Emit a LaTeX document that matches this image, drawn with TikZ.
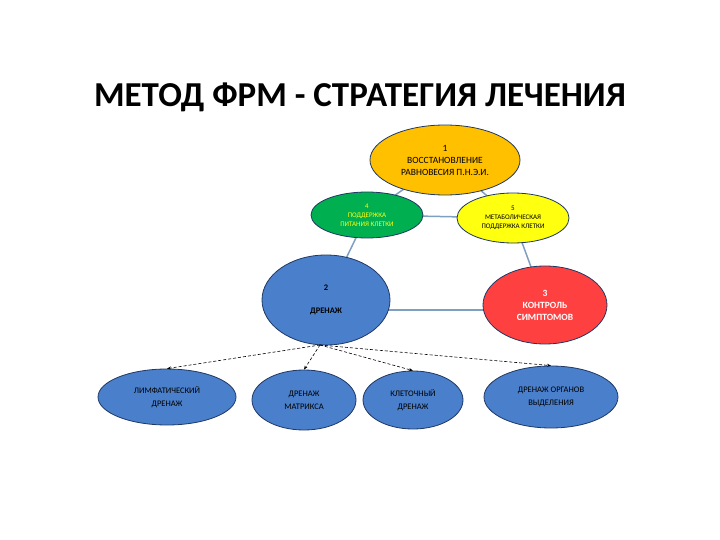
\documentclass[tikz,border=0pt]{standalone}
\usepackage{fontspec}
\setmainfont{Carlito}
\usetikzlibrary{shapes.geometric,arrows.meta}
\definecolor{lnk}{HTML}{7F9FC0}
\definecolor{bl}{HTML}{4A7FCC}
\definecolor{org}{HTML}{FFC000}
\definecolor{grn}{HTML}{00B050}
\definecolor{ylw}{HTML}{FFFF10}
\definecolor{rd}{HTML}{FF4040}
\definecolor{edg}{HTML}{1F3864}
\tikzset{el/.style={ellipse,draw=edg,line width=0.8pt,inner sep=0pt,align=center,font=\fontsize{8.5}{11}\selectfont},
lk/.style={lnk,line width=1.5pt},
ar/.style={densely dashed,line width=0.6pt,-{Stealth[length=4pt,width=3pt]}}}
\begin{document}
\begin{tikzpicture}[x=1pt,y=-1pt]
\useasboundingbox (0,0) rectangle (720,540);
\node[font=\bfseries\fontsize{35}{40}\selectfont] (t) at (360,97) {МЕТОД ФРМ - СТРАТЕГИЯ ЛЕЧЕНИЯ};
\coordinate (c1) at (445,160); \coordinate (c4) at (367,215); \coordinate (c5) at (513,218);
\coordinate (c2) at (326,300); \coordinate (c3) at (545,305);
\draw[lk] (c1)--(c4); \draw[lk] (c1)--(c5); \draw[lk] (c4)--(c5);
\draw[lk] (c4)--(c2); \draw[lk] (c5)--(c3); \draw[lk] (326,310)--(545,310);
\node[el,fill=org,minimum width=150,minimum height=70,font=\fontsize{9.5}{12}\selectfont] (n1) at (c1) {1\\ВОССТАНОВЛЕНИЕ\\РАВНОВЕСИЯ П.Н.Э.И.};
\node[el,fill=grn,text=ylw,minimum width=112,minimum height=46,font=\fontsize{7}{9}\selectfont] (n4) at (c4) {4\\ПОДДЕРЖКА\\ПИТАНИЯ КЛЕТКИ};
\node[el,fill=ylw,minimum width=112,minimum height=50,font=\fontsize{7}{9}\selectfont] (n5) at (c5) {5\\МЕТАБОЛИЧЕСКАЯ\\ПОДДЕРЖКА КЛЕТКИ};
\node[el,fill=bl,minimum width=128,minimum height=90,font=\bfseries\fontsize{8.5}{11}\selectfont] (n2) at (c2) {2\\[12pt]ДРЕНАЖ};
\node[el,fill=rd,text=white,minimum width=124,minimum height=78,font=\bfseries\fontsize{9.5}{12}\selectfont] (n3) at (c3) {3\\КОНТРОЛЬ\\СИМПТОМОВ};
\node[el,fill=bl,minimum width=138,minimum height=56] (b1) at (167,397) {ЛИМФАТИЧЕСКИЙ\\[2pt]ДРЕНАЖ};
\node[el,fill=bl,minimum width=104,minimum height=60] (b2) at (304,400) {ДРЕНАЖ\\[2pt]МАТРИКСА};
\node[el,fill=bl,minimum width=100,minimum height=58] (b3) at (413,400) {КЛЕТОЧНЫЙ\\[2pt]ДРЕНАЖ};
\node[el,fill=bl,minimum width=134,minimum height=62] (b4) at (551,397) {ДРЕНАЖ ОРГАНОВ\\[2pt]ВЫДЕЛЕНИЯ};
\coordinate (o) at (320,345);
\draw[ar] (o)--(b1.north); \draw[ar] (o)--(b2.north); \draw[ar] (o)--(b3.north); \draw[ar] (o)--(b4.north);
\end{tikzpicture}
\end{document}
